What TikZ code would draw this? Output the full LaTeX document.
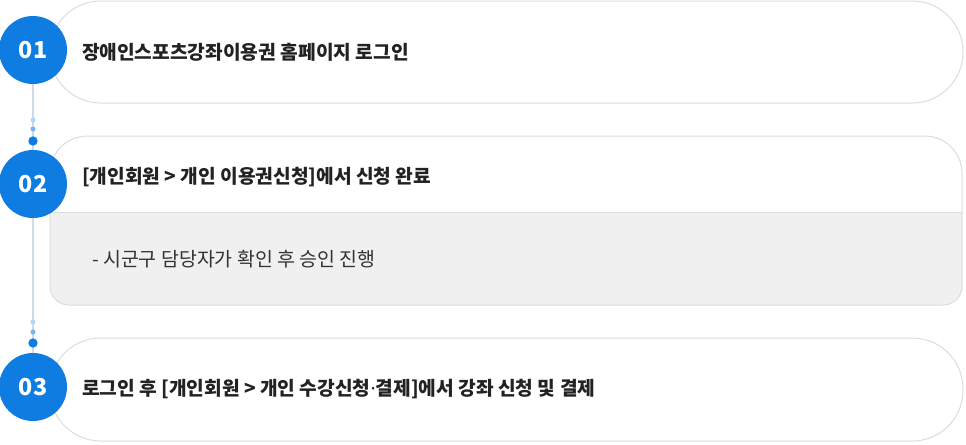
\documentclass[tikz,border=0pt]{standalone}
\usepackage{fontspec}
\setmainfont{Noto Sans CJK KR}
\newfontfamily\latinfont{Noto Sans}
\usepackage{tikz}
\usetikzlibrary{positioning, backgrounds}
\definecolor{stepblue}{RGB}{14,124,225}
\definecolor{dotlight}{RGB}{178,212,245}
\definecolor{dotmid}{RGB}{120,180,238}
\definecolor{boxline}{RGB}{220,220,220}
\definecolor{boxgray}{RGB}{240,240,240}
\definecolor{railline}{RGB}{205,218,236}
\definecolor{headtext}{RGB}{34,34,34}
\definecolor{subtext}{RGB}{51,51,51}
\tikzset{
  steps/.style={
	x=0.75pt, y=-0.75pt, % one unit is one pixel of the reference, y downwards
	every node/.style={inner sep=0pt, outer sep=0pt},
  },
  stepnum/.style={circle, fill=stepblue, minimum size=51pt, text=white, font=\bfseries\fontsize{17.5}{19}\selectfont}, % the numbered circles
  stepbox/.style={draw=boxline, line width=0.75pt, fill=white, rounded corners=38pt, minimum width=684.75pt, minimum height=76.5pt}, % pill shaped boxes
  steptext/.style={anchor=west, text=headtext, font=\bfseries\fontsize{14.4}{16}\selectfont}, % titles
  substep/.style={anchor=west, text=subtext, font=\fontsize{14.6}{16}\selectfont}, % note in the grey part
  dotsmall/.style={circle, minimum size=3.8pt}, % small dots on the rail
  dotbig/.style={circle, fill=stepblue, minimum size=7pt}, % big dot on the rail
}

\begin{document}
\begin{tikzpicture}[steps]
	\useasboundingbox (0,0) rectangle (966,444);
	% boxes
	\node[stepbox] (b1) at (506.5,52) {};
	\draw[boxline, line width=0.75pt, fill=white, rounded corners=28pt]
		(50,212) -- (50,136) -- (962,136) -- (962,212);
	\draw[boxline, line width=0.75pt, fill=boxgray, rounded corners=14pt]
		(50,212) -- (50,305) -- (962,305) -- (962,212);
	\draw[boxline, line width=0.75pt] (50,212) -- (962,212);
	\node[stepbox, minimum height=77.25pt] (b3) at (506.5,389.5) {};
	% circles
	\node[stepnum] (c1) at (33,50) {01};
	\node[stepnum] (c2) at (33,184) {02};
	\node[stepnum] (c3) at (33,387) {03};
	% rail dots
	\node[dotsmall, fill=dotlight] (d1) at (33,120) {};
	\node[dotsmall, fill=dotmid] (d2) at (33,129) {};
	\node[dotbig] (d3) at (33,141) {};
	\node[dotsmall, fill=dotlight] (d4) at (33,322) {};
	\node[dotsmall, fill=dotmid] (d5) at (33,332) {};
	\node[dotbig] (d6) at (33,343) {};
	\begin{pgfonlayer}{background}
		\draw[railline, line width=0.9pt] (c1.center) -- (c3.center);
	\end{pgfonlayer}
	% texts
	\node[steptext] (t1) at (82,52) {장애인스포츠강좌이용권 홈페이지 로그인};
	\node[steptext] (t2) at (82,177) {[개인회원 > 개인 이용권신청]에서 신청 완료};
	\node[substep] (s2) at (92,259) {- 시군구 담당자가 확인 후 승인 진행};
	\node[steptext] (t3) at (82,389) {로그인 후 [개인회원 > 개인 수강신청{\latinfont ·}결제]에서 강좌 신청 및 결제};
\end{tikzpicture}
\end{document}
